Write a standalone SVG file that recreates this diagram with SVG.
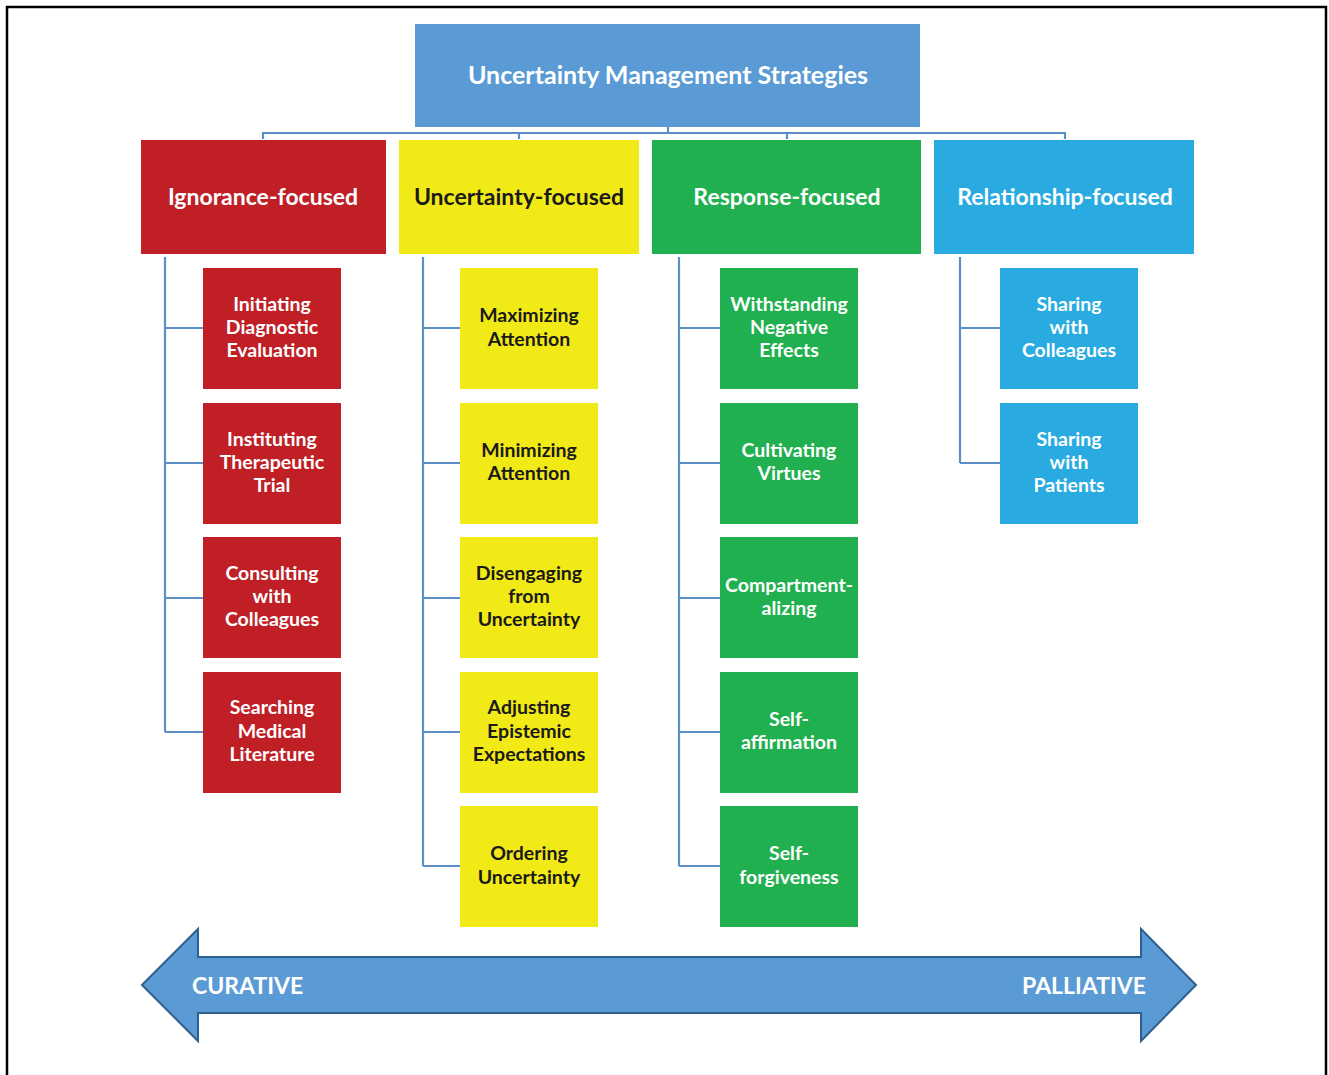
<svg xmlns="http://www.w3.org/2000/svg" width="1329" height="1075" viewBox="0 0 1329 1075">
<style>
text{font-family:Lato,"Open Sans","Liberation Sans",sans-serif;font-weight:bold;text-anchor:middle}
.w{fill:#ffffff}.d{fill:#1a1a1a}
.t1{font-size:25px}.t2{font-size:23px}.t3{font-size:19.5px}.t4{font-size:23px}
.red{fill:#C01F26}.yel{fill:#F2EA17}.grn{fill:#21B04F}.blu{fill:#29ABE2}.root{fill:#5B9BD5}
.con{fill:none;stroke:#5B8FC7;stroke-width:2.2}
</style>
<rect x="7" y="7" width="1319" height="1080" fill="#ffffff" stroke="#000000" stroke-width="2.5"/>
<g id="connectors">
<path class="con" d="M668 127V133M263 139V133H1065V139M519 133V139M787 133V139"/>
<path class="con" d="M165 257V732M165 328H203M165 463H203M165 598H203M165 732H203"/>
<path class="con" d="M423 257V866M423 328H460M423 463H460M423 598H460M423 732H460M423 866H460"/>
<path class="con" d="M679 257V866M679 328H720M679 463H720M679 598H720M679 732H720M679 866H720"/>
<path class="con" d="M960 257V463M960 328H1000M960 463H1000"/>
</g>
<g id="root"><rect class="root" x="415" y="24" width="505" height="103"/><text class="w t1" x="668" y="84">Uncertainty Management Strategies</text></g>
<g id="cat-ignorance"><rect class="red" x="141" y="140" width="245" height="114"/><text class="w t2" x="263" y="205">Ignorance-focused</text></g>
<g id="cat-uncertainty"><rect class="yel" x="399" y="140" width="240" height="114"/><text class="d t2" x="519" y="205">Uncertainty-focused</text></g>
<g id="cat-response"><rect class="grn" x="652" y="140" width="269" height="114"/><text class="w t2" x="787" y="205">Response-focused</text></g>
<g id="cat-relationship"><rect class="blu" x="934" y="140" width="260" height="114"/><text class="w t2" x="1065" y="205">Relationship-focused</text></g>

<g id="ig1"><rect class="red" x="203" y="268" width="138" height="121"/><text class="w t3" x="272" y="311">Initiating</text><text class="w t3" x="272" y="334">Diagnostic</text><text class="w t3" x="272" y="357">Evaluation</text></g>
<g id="ig2"><rect class="red" x="203" y="403" width="138" height="121"/><text class="w t3" x="272" y="446">Instituting</text><text class="w t3" x="272" y="469">Therapeutic</text><text class="w t3" x="272" y="492">Trial</text></g>
<g id="ig3"><rect class="red" x="203" y="537" width="138" height="121"/><text class="w t3" x="272" y="580">Consulting</text><text class="w t3" x="272" y="603">with</text><text class="w t3" x="272" y="626">Colleagues</text></g>
<g id="ig4"><rect class="red" x="203" y="672" width="138" height="121"/><text class="w t3" x="272" y="714">Searching</text><text class="w t3" x="272" y="738">Medical</text><text class="w t3" x="272" y="761">Literature</text></g>

<g id="un1"><rect class="yel" x="460" y="268" width="138" height="121"/><text class="d t3" x="529" y="322">Maximizing</text><text class="d t3" x="529" y="346">Attention</text></g>
<g id="un2"><rect class="yel" x="460" y="403" width="138" height="121"/><text class="d t3" x="529" y="457">Minimizing</text><text class="d t3" x="529" y="480">Attention</text></g>
<g id="un3"><rect class="yel" x="460" y="537" width="138" height="121"/><text class="d t3" x="529" y="580">Disengaging</text><text class="d t3" x="529" y="603">from</text><text class="d t3" x="529" y="626">Uncertainty</text></g>
<g id="un4"><rect class="yel" x="460" y="672" width="138" height="121"/><text class="d t3" x="529" y="714">Adjusting</text><text class="d t3" x="529" y="738">Epistemic</text><text class="d t3" x="529" y="761">Expectations</text></g>
<g id="un5"><rect class="yel" x="460" y="806" width="138" height="121"/><text class="d t3" x="529" y="860">Ordering</text><text class="d t3" x="529" y="884">Uncertainty</text></g>

<g id="re1"><rect class="grn" x="720" y="268" width="138" height="121"/><text class="w t3" x="789" y="311">Withstanding</text><text class="w t3" x="789" y="334">Negative</text><text class="w t3" x="789" y="357">Effects</text></g>
<g id="re2"><rect class="grn" x="720" y="403" width="138" height="121"/><text class="w t3" x="789" y="457">Cultivating</text><text class="w t3" x="789" y="480">Virtues</text></g>
<g id="re3"><rect class="grn" x="720" y="537" width="138" height="121"/><text class="w t3" x="789" y="592">Compartment-</text><text class="w t3" x="789" y="615">alizing</text></g>
<g id="re4"><rect class="grn" x="720" y="672" width="138" height="121"/><text class="w t3" x="789" y="726">Self-</text><text class="w t3" x="789" y="749">affirmation</text></g>
<g id="re5"><rect class="grn" x="720" y="806" width="138" height="121"/><text class="w t3" x="789" y="860">Self-</text><text class="w t3" x="789" y="884">forgiveness</text></g>

<g id="rl1"><rect class="blu" x="1000" y="268" width="138" height="121"/><text class="w t3" x="1069" y="311">Sharing</text><text class="w t3" x="1069" y="334">with</text><text class="w t3" x="1069" y="357">Colleagues</text></g>
<g id="rl2"><rect class="blu" x="1000" y="403" width="138" height="121"/><text class="w t3" x="1069" y="446">Sharing</text><text class="w t3" x="1069" y="469">with</text><text class="w t3" x="1069" y="492">Patients</text></g>

<g id="axis">
<path d="M142 985L198 929V957H1141V929L1196 985L1141 1041V1013H198V1041Z" fill="#5B9BD5" stroke="#2F5F8F" stroke-width="2"/>
<text class="w t4" x="192" y="994" style="text-anchor:start">CURATIVE</text>
<text class="w t4" x="1146" y="994" style="text-anchor:end">PALLIATIVE</text>
</g>
</svg>
